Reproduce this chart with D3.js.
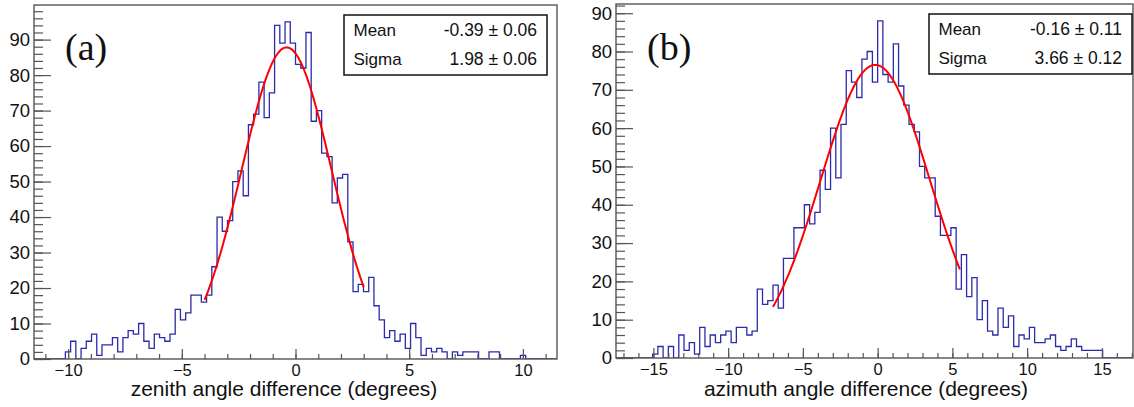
<!DOCTYPE html>
<html>
<head>
<meta charset="utf-8">
<title>Angle difference histograms</title>
<script src="https://d3js.org/d3.v7.min.js"></script>
<style>
  body { margin: 0; background: #fff; }
  svg { display: block; font-family: "Liberation Sans", Arial, sans-serif; }
</style>
</head>
<body>
<svg id="chart" width="1134" height="407"></svg>
<script>
// ---- data ----
// (a) zenith: 100 bins of 0.23 deg from -11.5 to 11.5
const zenithBinStart = -11.5;
const zenithBinWidth = 0.23;
const zenithCounts = [
  0, 0, 0, 0, 0, 0, 2, 5, 0, 3,
  5, 7, 1, 4, 4, 6, 2, 6, 8, 7,
  10, 5, 3, 7, 6, 5, 7, 14, 11, 13,
  18, 18, 16, 18, 26, 40, 36, 39, 50, 53,
  46, 66, 69, 78, 68, 75, 94, 89, 95, 89,
  83, 82, 92, 67, 70, 58, 57, 44, 51, 52,
  33, 19, 21, 19, 23, 15, 11, 6, 8, 5,
  7, 3, 10, 6, 1, 3, 2, 3, 2, 0,
  2, 1, 2, 2, 2, 0, 0, 2, 2, 0,
  0, 0, 0, 1, 0, 0, 0, 0, 0, 0
];
const zenithXTicks = [-10, -5, 0, 5, 10];
const zenithYTicks = [0, 10, 20, 30, 40, 50, 60, 70, 80, 90];
const zenithFit = [87.8, -0.39, 1.98];      // amplitude, mean, sigma
const zenithFitRange = [-4, 3];
const zenithStats = [["Mean", "-0.39 \u00b1 0.06"], ["Sigma", "1.98 \u00b1 0.06"]];

// (b) azimuth: 100 bins of 0.35 deg from -17.5 to 17.5
const azimuthBinStart = -17.5;
const azimuthBinWidth = 0.35;
const azimuthCounts = [
  0, 0, 0, 0, 0, 0, 0, 1, 3, 0,
  3, 0, 6, 2, 4, 1, 8, 3, 6, 4,
  6, 7, 4, 8, 8, 6, 7, 18, 14, 15,
  19, 13, 26, 26, 34, 34, 40, 35, 38, 49,
  44, 60, 47, 61, 75, 72, 68, 78, 80, 72,
  88, 74, 72, 82, 71, 66, 61, 59, 50, 47,
  47, 37, 32, 32, 34, 18, 27, 16, 21, 10,
  15, 7, 6, 13, 8, 11, 3, 6, 5, 8,
  4, 4, 5, 6, 3, 2, 3, 5, 3, 2,
  2, 2, 2, 0, 0, 0, 0, 0, 0, 0
];
const azimuthXTicks = [-15, -10, -5, 0, 5, 10, 15];
const azimuthYTicks = [0, 10, 20, 30, 40, 50, 60, 70, 80, 90];
const azimuthFit = [76.5, -0.16, 3.66];
const azimuthFitRange = [-7, 5.5];
const azimuthStats = [["Mean", "-0.16 \u00b1 0.11"], ["Sigma", "3.66 \u00b1 0.12"]];

// ---- layout ----
const panels = [
  {
    id: "a", tag: "(a)", title: "zenith angle difference (degrees)",
    xDomain: [-11.5, 11.5], yMax: 99.75,
    left: 34, right: 557, top: 5, bottom: 359,
    binStart: zenithBinStart, binWidth: zenithBinWidth, counts: zenithCounts,
    xTicks: zenithXTicks, yTicks: zenithYTicks,
    fit: zenithFit, fitRange: zenithFitRange, stats: zenithStats,
    tagX: 65, titleX: 284,
    box: [344, 15, 547, 75]
  },
  {
    id: "b", tag: "(b)", title: "azimuth angle difference (degrees)",
    xDomain: [-17.5, 17.08], yMax: 92.4,
    left: 616, right: 1133, top: 4, bottom: 358,
    binStart: azimuthBinStart, binWidth: azimuthBinWidth, counts: azimuthCounts,
    xTicks: azimuthXTicks, yTicks: azimuthYTicks,
    fit: azimuthFit, fitRange: azimuthFitRange, stats: azimuthStats,
    tagX: 647, titleX: 866,
    box: [929, 14, 1132, 74]
  }
];

const svg = d3.select("#chart");
const fmt = d => d < 0 ? "\u2212" + Math.abs(d) : String(d);

panels.forEach(p => {
  const x = d3.scaleLinear().domain(p.xDomain).range([p.left, p.right]);
  const y = d3.scaleLinear().domain([0, p.yMax]).range([p.bottom, p.top]);
  const g = svg.append("g");

  g.append("clipPath").attr("id", "clip-" + p.id)
    .append("rect")
    .attr("x", p.left).attr("y", p.top)
    .attr("width", p.right - p.left).attr("height", p.bottom - p.top);

  // histogram outline
  const pts = [[p.binStart, 0]];
  p.counts.forEach((c, i) => {
    const x0 = p.binStart + i * p.binWidth;
    pts.push([x0, c], [x0 + p.binWidth, c]);
  });
  pts.push([p.binStart + p.counts.length * p.binWidth, 0]);
  g.append("path")
    .attr("clip-path", `url(#clip-${p.id})`)
    .attr("d", d3.line().x(d => x(d[0])).y(d => y(d[1]))(pts))
    .attr("fill", "none")
    .attr("stroke", "#2b2bab")
    .attr("stroke-width", 1.3);

  // gaussian fit
  const [amp, mu, sig] = p.fit;
  const fitPts = d3.range(p.fitRange[0], p.fitRange[1] + 1e-9, 0.05)
    .map(v => [v, amp * Math.exp(-0.5 * ((v - mu) / sig) ** 2)]);
  g.append("path")
    .attr("d", d3.line().x(d => x(d[0])).y(d => y(d[1]))(fitPts))
    .attr("fill", "none")
    .attr("stroke", "#ff0000")
    .attr("stroke-width", 2);

  // axes, ticks point inwards
  const minorX = d3.range(Math.ceil(p.xDomain[0]), Math.floor(p.xDomain[1]) + 1);
  const minorY = d3.range(0, p.yMax, 2);

  const xMinor = g.append("g").attr("transform", `translate(0,${p.bottom})`)
    .call(d3.axisBottom(x).tickValues(minorX).tickSize(-5).tickFormat(""));
  const xMajor = g.append("g").attr("transform", `translate(0,${p.bottom})`)
    .call(d3.axisBottom(x).tickValues(p.xTicks).tickSize(-10).tickPadding(5).tickFormat(fmt));
  const yMinor = g.append("g").attr("transform", `translate(${p.left},0)`)
    .call(d3.axisLeft(y).tickValues(minorY).tickSize(-9).tickFormat(""));
  const yMajor = g.append("g").attr("transform", `translate(${p.left},0)`)
    .call(d3.axisLeft(y).tickValues(p.yTicks).tickSize(-17).tickPadding(4).tickFormat(fmt));

  [xMinor, xMajor, yMinor, yMajor].forEach(a => {
    a.select(".domain").remove();
    a.selectAll("line").attr("stroke", "#555").attr("stroke-width", 1.2);
  });
  xMajor.selectAll("text").attr("font-size", 16.5).attr("fill", "#111")
    .attr("font-family", "Liberation Sans, Arial, sans-serif");
  yMajor.selectAll("text").attr("font-size", 18.5).attr("fill", "#111")
    .attr("font-family", "Liberation Sans, Arial, sans-serif");

  // frame
  g.append("rect")
    .attr("x", p.left).attr("y", p.top)
    .attr("width", p.right - p.left).attr("height", p.bottom - p.top)
    .attr("fill", "none").attr("stroke", "#555").attr("stroke-width", 1.4);

  // panel tag
  g.append("text")
    .attr("x", p.tagX).attr("y", 60)
    .attr("font-family", "Liberation Serif, Times New Roman, serif")
    .attr("font-size", 38).attr("fill", "#111")
    .text(p.tag);

  // axis title
  g.append("text")
    .attr("x", p.titleX).attr("y", 396)
    .attr("text-anchor", "middle")
    .attr("font-size", 21).attr("fill", "#111")
    .text(p.title);

  // stats box
  const [bx0, by0, bx1, by1] = p.box;
  g.append("rect")
    .attr("x", bx0).attr("y", by0)
    .attr("width", bx1 - bx0).attr("height", by1 - by0)
    .attr("fill", "#fff").attr("stroke", "#111").attr("stroke-width", 1.5);
  p.stats.forEach((row, i) => {
    const yy = by0 + 21 + i * 29;
    g.append("text").attr("x", bx0 + 9.5).attr("y", yy)
      .attr("font-size", 17).attr("fill", "#111").text(row[0]);
    g.append("text").attr("x", bx1 - 10).attr("y", yy)
      .attr("text-anchor", "end")
      .attr("font-size", 17.5).attr("fill", "#111").text(row[1]);
  });
});
</script>
</body>
</html>
